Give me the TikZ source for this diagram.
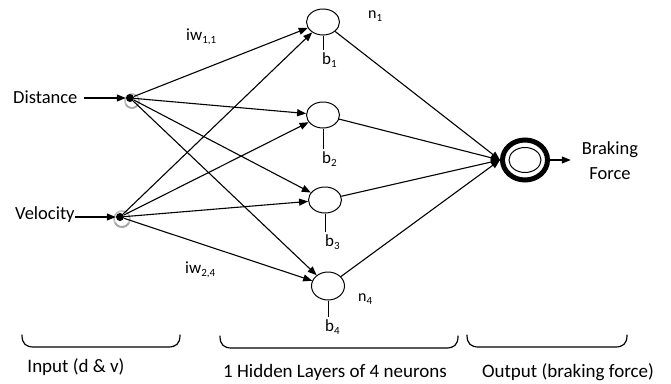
\documentclass[tikz,border=0pt]{standalone}
\usepackage{fontspec}
\setmainfont{Carlito}
\usetikzlibrary{arrows.meta,shapes.geometric,calc}
\newcommand\mysub[1]{\raisebox{-3pt}{\fontsize{11}{11}\selectfont #1}}
\begin{document}
\begin{tikzpicture}[x=1pt,y=-1pt,
  arr/.style={-{Triangle[length=9pt,width=7pt]}, line width=1.1pt},
  conn/.style={line width=1.1pt},
  neuron/.style={ellipse, draw, line width=1pt, minimum width=33pt, minimum height=26pt, inner sep=0pt},
  indot/.style={circle, fill=black, minimum size=8pt, inner sep=0pt},
  txt/.style={font=\fontsize{18.5}{20}\selectfont, inner sep=0pt},
  ltxt/.style={font=\fontsize{19}{20}\selectfont, inner sep=0pt},
  btxt/.style={font=\fontsize{17}{17}\selectfont, inner sep=0pt},
  ntxt/.style={font=\fontsize{16}{16}\selectfont, inner sep=0pt},
  ring/.style={gray!50, line width=1.6pt},
  brace/.style={line width=1.2pt, line cap=round}
]
\useasboundingbox (0,0) rectangle (671,383);

% input rings and dots
\draw[ring] (132,101) circle (7pt);
\draw[gray!70, line width=1.6pt] (132,101) ++(210:7pt) arc (210:330:7pt);
\draw[ring] (122,219) circle (8pt);
\draw[gray!70, line width=1.8pt] (122,219) ++(210:8pt) arc (210:330:8pt);
\node[indot] (i1) at (130,98) {};
\node[indot] (i2) at (120,217) {};

% input texts
\node[txt, anchor=base west] (dist) at (13,103.5) {Distance};
\node[txt, anchor=base west] (vel) at (15,219.5) {Velocity};
\draw[arr] ($(dist.east |- i1)+(6,0)$) -- (i1);
\draw[arr] (vel.east |- i2) -- (i2);

% hidden neurons
\node[neuron] (n1) at (323,22) {};
\node[neuron] (n2) at (323,115) {};
\node[neuron] (n3) at (325,200) {};
\node[neuron, minimum height=28pt] (n4) at (328,286) {};

% bias labels
\node[btxt, anchor=north west] (b1) at (322,52) {b\mysub{1}};
\node[btxt, anchor=north west] (b2) at (322,151) {b\mysub{2}};
\node[btxt, anchor=north west] (b3) at (325,234) {b\mysub{3}};
\node[btxt, anchor=north west] (b4) at (325,319) {b\mysub{4}};
\foreach \k in {1,2,3,4}{
  \draw[line width=1pt, shorten >=2pt] (n\k.south) -- (n\k.south |- b\k.north);
}

% neuron labels
\node[ntxt, anchor=base west] (l1) at (368,18) {n\mysub{1}};
\node[ntxt, anchor=base west] (l4) at (358,301) {n\mysub{4}};

% weight labels
\node[btxt, anchor=base west] (w1) at (186,40) {iw\mysub{1,1}};
\node[btxt, anchor=base west] (w2) at (185,273) {iw\mysub{2,4}};

% output neuron
\node[ellipse, draw, line width=5pt, minimum width=45pt, minimum height=40pt, inner sep=0pt] (out) at (525,160) {};
\draw[line width=1pt] (out.center) ellipse [x radius=16pt, y radius=12.5pt];

% connections input -> hidden
\foreach \h in {n1,n2,n3,n4}{
  \draw[arr] (i1) -- (\h);
  \draw[arr] (i2) -- (\h);
}
% hidden -> output
\foreach \h in {n1,n2,n3,n4}{
  \draw[arr] (\h) -- (out.west);
}

% output text
\node[txt, align=center, anchor=north, font=\fontsize{18.5}{25}\selectfont] (brk) at (610,141) {Braking\\Force};
\draw[arr] (out.east) -- ($(brk.west |- out)+(-11,0)$);

% braces
\draw[brace] (22,335) .. controls (22,344) and (26,347) .. (34,347) -- (168,347) .. controls (176,347) and (180,344) .. (180,335);
\draw[brace] (220,336) .. controls (220,345) and (224,348) .. (232,348) -- (446,348) .. controls (454,348) and (458,345) .. (458,336);
\draw[brace] (467,335) .. controls (467,344) and (471,347) .. (479,347) -- (615,347) .. controls (623,347) and (627,344) .. (627,335);

% bottom labels
\node[ltxt, anchor=base] (lin) at (76,372) {Input (d \& v)};
\node[ltxt, anchor=base] (lhid) at (335,377) {1 Hidden Layers of 4 neurons};
\node[ltxt, anchor=base] (lout) at (568,377) {Output (braking force)};
\end{tikzpicture}
\end{document}
